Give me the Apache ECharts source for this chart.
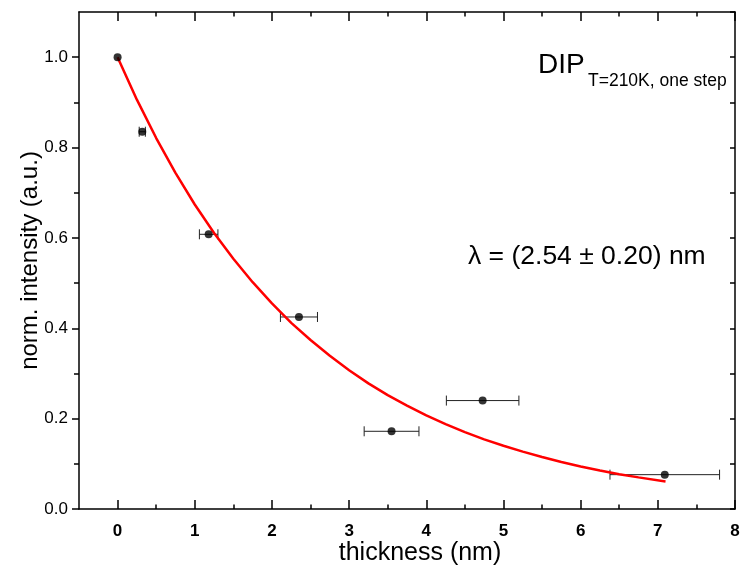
<!DOCTYPE html>
<html><head><meta charset="utf-8">
<script src="https://cdn.jsdelivr.net/npm/echarts@6/dist/echarts.min.js"></script>
<style>html,body{margin:0;padding:0;background:#fff}#c{width:745px;height:567px}</style>
</head><body><div id="c"></div>
<script>
// measured data points
const thickness    = [0, 0.32, 1.18, 2.35, 3.55, 4.73, 7.09];
const intensity    = [1.0, 0.835, 0.608, 0.425, 0.172, 0.240, 0.076];
const thicknessErr = [0, 0.04, 0.12, 0.24, 0.355, 0.47, 0.71];
// fitted curve
const fitThickness = [0, 0.25, 0.5, 0.75, 1, 1.25, 1.5, 1.75, 2, 2.25, 2.5, 2.75, 3, 3.25, 3.5, 3.75, 4, 4.25, 4.5, 4.75, 5, 5.25, 5.5, 5.75, 6, 6.25, 6.5, 6.75, 7.1];
const fitIntensity = [1.0, 0.906, 0.821, 0.744, 0.674, 0.611, 0.554, 0.502, 0.455, 0.412, 0.374, 0.339, 0.307, 0.278, 0.252, 0.229, 0.207, 0.188, 0.170, 0.154, 0.140, 0.127, 0.115, 0.104, 0.094, 0.085, 0.077, 0.070, 0.061];
// axis labels / texts
const xName = 'thickness (nm)';
const yName = 'norm. intensity (a.u.)';
const sampleLabel = 'DIP';
const sampleSub = 'T=210K, one step';
const lambdaLabel = 'λ = (2.54 ± 0.20) nm';

const FONT = '"Liberation Sans", Arial, Helvetica, sans-serif';
const chart = echarts.init(document.getElementById('c'), null, {renderer: 'canvas'});
const axisLine = {show: true, onZero: false, lineStyle: {color: '#000', width: 1.5}};
const L = 79, R = 10, T = 12, B = 58;
const plotW = 745 - L - R;
const xZeroLeft = L + plotW * 0.5 / 8.5;
const plotH = 567 - T - B;
const yOneTop = T + plotH * 0.1 / 1.1;
const gridBase = {right: R, bottom: B, containLabel: false, outerBoundsMode: 'none'};

const option = {
  animation: false,
  backgroundColor: '#fff',
  grid: [
    Object.assign({left: L, top: T}, gridBase),
    Object.assign({left: xZeroLeft, top: T}, gridBase),
    Object.assign({left: L, top: yOneTop}, gridBase)
  ],
  xAxis: [
    {gridIndex: 0, type: 'value', position: 'bottom', min: -0.5, max: 8, axisLine: axisLine,
     axisTick: {show: false}, axisLabel: {show: false}, splitLine: {show: false},
     name: xName, nameLocation: 'middle', nameGap: 32,
     nameTextStyle: {fontFamily: FONT, fontSize: 25, color: '#000', padding: [0, 0, 0, 26]}},
    {gridIndex: 0, type: 'value', position: 'top', min: -0.5, max: 8, axisLine: axisLine,
     axisTick: {show: false}, axisLabel: {show: false}, splitLine: {show: false}},
    {gridIndex: 1, type: 'value', position: 'bottom', min: 0, max: 8, interval: 1,
     axisLine: {show: false}, splitLine: {show: false},
     axisTick: {show: true, inside: true, length: 9, lineStyle: {color: '#000', width: 1.5}},
     minorTick: {show: true, splitNumber: 2, length: 4.5, lineStyle: {color: '#000', width: 1.5}},
     axisLabel: {show: true, fontFamily: FONT, fontSize: 17, fontWeight: 'bold', color: '#000', margin: 14}},
    {gridIndex: 1, type: 'value', position: 'top', min: 0, max: 8, interval: 1,
     axisLine: {show: false}, splitLine: {show: false}, axisLabel: {show: false},
     axisTick: {show: true, inside: true, length: 9, lineStyle: {color: '#000', width: 1.5}},
     minorTick: {show: true, splitNumber: 2, length: 4.5, lineStyle: {color: '#000', width: 1.5}}},
    {gridIndex: 2, type: 'value', show: false, min: 0, max: 1}
  ],
  yAxis: [
    {gridIndex: 0, type: 'value', position: 'left', min: 0, max: 1.1, axisLine: axisLine,
     axisTick: {show: false}, axisLabel: {show: false}, splitLine: {show: false},
     name: yName, nameLocation: 'middle', nameGap: 37,
     nameTextStyle: {fontFamily: FONT, fontSize: 24, color: '#000'}},
    {gridIndex: 0, type: 'value', position: 'right', min: 0, max: 1.1, interval: 0.1, axisLine: axisLine,
     axisTick: {show: true, inside: true, length: 5, lineStyle: {color: '#000', width: 1.5}},
     axisLabel: {show: false}, splitLine: {show: false}},
    {gridIndex: 1, type: 'value', show: false, min: 0, max: 1},
    {gridIndex: 2, type: 'value', position: 'left', min: 0, max: 1.0, interval: 0.2,
     axisLine: {show: false}, splitLine: {show: false},
     axisTick: {show: true, inside: false, length: 7, lineStyle: {color: '#000', width: 1.5}},
     minorTick: {show: true, splitNumber: 2, length: 5, lineStyle: {color: '#000', width: 1.5}},
     axisLabel: {show: true, fontFamily: FONT, fontSize: 17, color: '#000', margin: 11,
       formatter: v => v.toFixed(1)}}
  ],
  series: [
    {
      type: 'custom', xAxisIndex: 0, yAxisIndex: 0, z: 2, silent: true,
      data: thickness.map((x, i) => [x, intensity[i], thicknessErr[i]]),
      encode: {x: 0, y: 1},
      renderItem: (params, api) => {
        const x = api.value(0), y = api.value(1), e = api.value(2);
        if (!e) return null;
        const l = api.coord([x - e, y]), r = api.coord([x + e, y]);
        const h = 5, st = {stroke: '#222', lineWidth: 1};
        return {type: 'group', children: [
          {type: 'line', shape: {x1: l[0], y1: l[1], x2: r[0], y2: r[1]}, style: st},
          {type: 'line', shape: {x1: l[0], y1: l[1] - h, x2: l[0], y2: l[1] + h}, style: st},
          {type: 'line', shape: {x1: r[0], y1: r[1] - h, x2: r[0], y2: r[1] + h}, style: st}
        ]};
      }
    },
    {
      type: 'line', xAxisIndex: 0, yAxisIndex: 0, z: 3, silent: true,
      data: fitThickness.map((x, i) => [x, fitIntensity[i]]),
      showSymbol: false, smooth: false,
      lineStyle: {color: '#ff0000', width: 2.5}
    },
    {
      type: 'scatter', xAxisIndex: 0, yAxisIndex: 0, z: 5, silent: true,
      data: thickness.map((x, i) => [x, intensity[i]]),
      symbol: 'circle', symbolSize: 8, itemStyle: {color: '#000'}
    }
  ],
  graphic: [
    {type: 'text', left: 538, top: 51, style: {text: sampleLabel, font: '28px ' + FONT, fill: '#000'}},
    {type: 'text', left: 588, top: 72, style: {text: sampleSub, font: '17.5px ' + FONT, fill: '#000'}},
    {type: 'text', left: 468, top: 243, style: {text: lambdaLabel, font: '26.5px ' + FONT, fill: '#000'}}
  ]
};
chart.setOption(option);
</script>
</body></html>
